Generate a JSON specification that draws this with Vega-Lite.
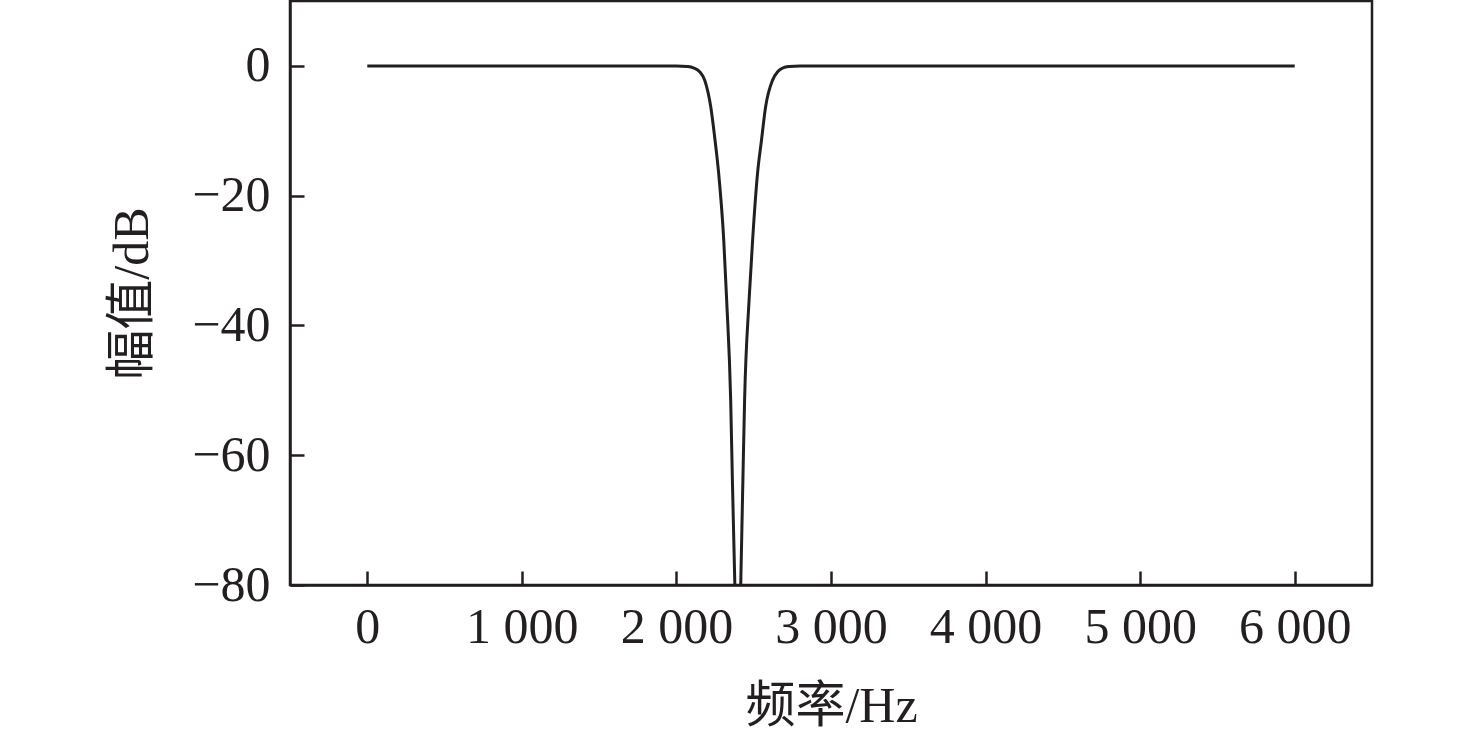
{
  "$schema": "https://vega.github.io/schema/vega-lite/v6.json",
  "width": 1082,
  "height": 584,
  "autosize": {"type": "none"},
  "padding": {"left": 290, "top": 1, "right": 104, "bottom": 154},
  "background": "white",
  "config": {
    "view": {"stroke": "#231f20", "strokeWidth": 2.5},
    "font": "Liberation Serif"
  },
  "data": {
    "values": [
      {"f": 0, "db": 0},
      {"f": 2000, "db": 0},
      {"f": 2070, "db": -0.1},
      {"f": 2110, "db": -0.3},
      {"f": 2150, "db": -0.9},
      {"f": 2183, "db": -2.2},
      {"f": 2222, "db": -6.3},
      {"f": 2250, "db": -11.5},
      {"f": 2273, "db": -16.5},
      {"f": 2306, "db": -26.8},
      {"f": 2325, "db": -36.1},
      {"f": 2351, "db": -51.5},
      {"f": 2362, "db": -63.8},
      {"f": 2378, "db": -80},
      {"f": 2397, "db": -100},
      {"f": 2416, "db": -80},
      {"f": 2430, "db": -63.8},
      {"f": 2441, "db": -51.5},
      {"f": 2470, "db": -36.1},
      {"f": 2493, "db": -26.8},
      {"f": 2525, "db": -16.5},
      {"f": 2550, "db": -11.5},
      {"f": 2577, "db": -6.3},
      {"f": 2622, "db": -2.2},
      {"f": 2655, "db": -0.9},
      {"f": 2690, "db": -0.3},
      {"f": 2730, "db": -0.1},
      {"f": 2800, "db": 0},
      {"f": 6000, "db": 0}
    ]
  },
  "mark": {"type": "line", "color": "#231f20", "strokeWidth": 3, "clip": true, "interpolate": "monotone"},
  "encoding": {
    "x": {
      "field": "f",
      "type": "quantitative",
      "scale": {"domain": [-500, 6500], "nice": false, "zero": false},
      "axis": {
        "values": [0, 1000, 2000, 3000, 4000, 5000, 6000],
        "labelExpr": "replace(format(datum.value, ','), ',', ' ')",
        "grid": false,
        "tickSize": -14,
        "tickWidth": 2.5,
        "tickColor": "#231f20",
        "domainColor": "#231f20",
        "domainWidth": 2.5,
        "labelFontSize": 50,
        "labelColor": "#231f20",
        "labelPadding": 31,
        "labelFlush": false,
        "title": "频率/Hz",
        "titleFont": "Liberation Serif, Noto Sans CJK SC",
        "titleFontSize": 50,
        "titleFontWeight": "normal",
        "titleColor": "#231f20",
        "titlePadding": 29
      }
    },
    "y": {
      "field": "db",
      "type": "quantitative",
      "scale": {"domain": [-80, 10], "nice": false, "zero": false},
      "axis": {
        "values": [-80, -60, -40, -20, 0],
        "grid": false,
        "tickSize": -14,
        "tickWidth": 2.5,
        "tickColor": "#231f20",
        "domainColor": "#231f20",
        "domainWidth": 2.5,
        "labelFontSize": 50,
        "labelColor": "#231f20",
        "labelPadding": 34,
        "labelFlush": false,
        "title": "幅值/dB",
        "titleFont": "Liberation Serif, Noto Sans CJK SC",
        "titleFontSize": 50,
        "titleFontWeight": "normal",
        "titleColor": "#231f20",
        "titlePadding": 34
      }
    }
  }
}
